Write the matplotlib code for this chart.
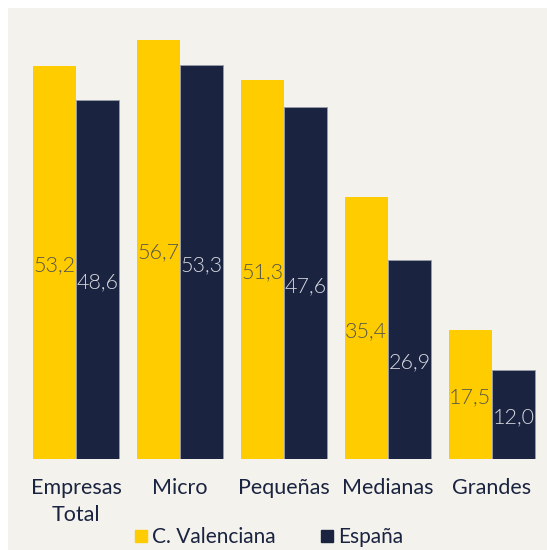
import matplotlib.pyplot as plt
import numpy as np
from matplotlib.patches import Rectangle
from matplotlib.lines import Line2D

categories = ['Empresas\nTotal', 'Micro', 'Pequeñas', 'Medianas', 'Grandes']
valenciana = [53.2, 56.7, 51.3, 35.4, 17.5]
espana = [48.6, 53.3, 47.6, 26.9, 12.0]
series_names = ['C. Valenciana', 'España']

yellow = '#ffcc00'
navy = '#1a2340'
bg = '#f3f2ec'

plt.rcParams['font.family'] = ['Lato', 'DejaVu Sans']

fig = plt.figure(figsize=(5.47, 5.5), dpi=100)
fig.patch.set_facecolor('white')
fig.patches.append(Rectangle((8/547, 0), 1, 542/550, transform=fig.transFigure,
                             facecolor=bg, edgecolor='none', zorder=-10))

ax = fig.add_axes([8/547, 91/550, 539/547, 451/550])
ax.set_facecolor('none')
ax.set_zorder(1)

x = np.arange(len(categories))
w = 0.418
b1 = ax.bar(x - w/2, valenciana, w, color=yellow, edgecolor='none')
b2 = ax.bar(x + w/2, espana, w, color=navy, edgecolor='#9a9eaa', linewidth=0.6)

def fmt(v):
    return ('%.1f' % v).replace('.', ',')

for rect, v in zip(b1, valenciana):
    ax.text(rect.get_x() + rect.get_width()/2, v/2 - 0.4, fmt(v), ha='center', va='center',
            fontsize=15.5, fontweight=300, color='#55554a', zorder=5)
for rect, v in zip(b2, espana):
    ax.text(rect.get_x() + rect.get_width()/2, v/2 - 0.4, fmt(v), ha='center', va='center',
            fontsize=15.5, fontweight=300, color='#d8dae0', zorder=5)

ax.set_xlim(-0.654, 4.529)
ax.set_ylim(0, 61.0)
ax.set_xticks(x)
ax.set_xticklabels(categories, fontsize=15.5, color=navy, linespacing=1.4)
ax.tick_params(axis='x', length=0, pad=14)
ax.set_yticks([])
for s in ax.spines.values():
    s.set_visible(False)

handles = [Line2D([], [], marker='s', linestyle='none', markersize=8, color=yellow),
           Line2D([], [], marker='s', linestyle='none', markersize=8, color=navy)]
leg = fig.legend(handles, series_names, loc='center', bbox_to_anchor=(267/547, 13/550),
                 ncol=2, frameon=False, fontsize=15, handletextpad=0.05,
                 columnspacing=1.95, handlelength=1.0)
for t in leg.get_texts():
    t.set_color(navy)

fig.savefig('out.png', dpi=100)
